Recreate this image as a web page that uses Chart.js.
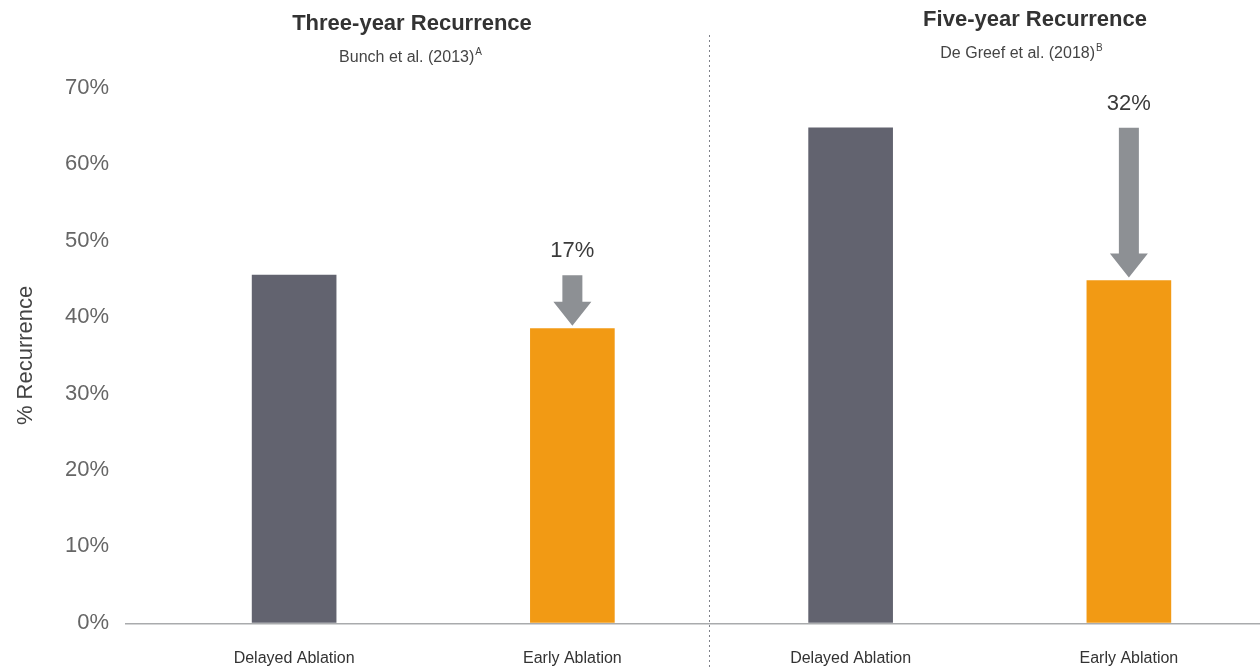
<!DOCTYPE html>
<html>
<head>
<meta charset="utf-8">
<script src="https://cdn.jsdelivr.net/npm/chart.js@4/dist/chart.umd.min.js"></script>
<style>
  html, body { margin: 0; padding: 0; background: #fff; overflow: hidden; }
  #wrap { width: 1260px; height: 667px; overflow: hidden; }
  canvas { display: block; }
</style>
</head>
<body>
<div id="wrap"><canvas id="recurrenceChart" width="1268" height="674"></canvas></div>
<script>
// data
const categories = ['Delayed Ablation', 'Early Ablation', 'Delayed Ablation', 'Early Ablation'];
const recurrence = [45.5, 38.5, 64.8, 44.8];
const barColors = ['#62636f', '#f29a14', '#62636f', '#f29a14'];
const yTicks = [0, 10, 20, 30, 40, 50, 60, 70];

const panelTitles = ['Three-year Recurrence', 'Five-year Recurrence'];
const panelSources = [['Bunch et al. (2013)', 'A'], ['De Greef et al. (2018)', 'B']];
// reductions: [from index, to index, label]
const reductions = [[0, 1, '17%'], [2, 3, '32%']];

const FONT = '"Liberation Sans", Arial, sans-serif';

// titles, divider, baseline and arrows
const decorPlugin = {
  id: 'decor',
  afterDatasetsDraw(chart) {
    const { ctx, scales } = chart;
    const x = scales.x, y = scales.y;
    ctx.save();

    // baseline
    ctx.strokeStyle = '#a9abad';
    ctx.lineWidth = 1.5;
    ctx.beginPath();
    ctx.moveTo(125, y.getPixelForValue(0) + 1);
    ctx.lineTo(chart.width, y.getPixelForValue(0) + 1);
    ctx.stroke();

    // dotted divider between the two studies
    const divX = (x.getPixelForValue(1) + x.getPixelForValue(2)) / 2 - 2;
    ctx.strokeStyle = '#7d8088';
    ctx.lineWidth = 1;
    ctx.setLineDash([2, 3]);
    ctx.beginPath();
    ctx.moveTo(divX, 35);
    ctx.lineTo(divX, chart.height);
    ctx.stroke();
    ctx.setLineDash([]);

    // panel titles
    const titleX = [412, 1035];
    const titleY = [24, 20];
    const srcX = [410, 1021];
    const srcY = [58, 54];
    ctx.textBaseline = 'middle';
    panelTitles.forEach((t, i) => {
      ctx.textAlign = 'center';
      ctx.fillStyle = '#333';
      ctx.font = 'bold 22px ' + FONT;
      ctx.fillText(t, titleX[i], titleY[i]);
      ctx.fillStyle = '#444';
      const [main, sup] = panelSources[i];
      ctx.font = '16px ' + FONT;
      const w = ctx.measureText(main).width;
      ctx.font = '10px ' + FONT;
      const sw = ctx.measureText(sup).width;
      const left = srcX[i] - (w + sw) / 2;
      ctx.textAlign = 'left';
      ctx.font = '16px ' + FONT;
      ctx.fillText(main, left, srcY[i]);
      ctx.font = '10px ' + FONT;
      ctx.fillText(sup, left + w + 1, srcY[i] - 6);
    });

    // reduction arrows
    ctx.textAlign = 'center';
    reductions.forEach(([from, to, label]) => {
      const cx = x.getPixelForValue(to);
      const yTop = y.getPixelForValue(recurrence[from]);
      const yTip = y.getPixelForValue(recurrence[to]) - 3;
      const shaft = 10, head = 19, headH = 24;
      ctx.fillStyle = '#8d9094';
      ctx.beginPath();
      ctx.moveTo(cx - shaft, yTop);
      ctx.lineTo(cx + shaft, yTop);
      ctx.lineTo(cx + shaft, yTip - headH);
      ctx.lineTo(cx + head, yTip - headH);
      ctx.lineTo(cx, yTip);
      ctx.lineTo(cx - head, yTip - headH);
      ctx.lineTo(cx - shaft, yTip - headH);
      ctx.closePath();
      ctx.fill();
      ctx.fillStyle = '#3a3a3a';
      ctx.font = '22px ' + FONT;
      ctx.fillText(label, cx, yTop - 24);
    });

    ctx.restore();
  }
};

const ctx = document.getElementById('recurrenceChart').getContext('2d');
new Chart(ctx, {
  type: 'bar',
  data: {
    labels: categories,
    datasets: [{
      label: '% Recurrence',
      data: recurrence,
      backgroundColor: barColors,
      barThickness: 84
    }]
  },
  options: {
    responsive: false,
    animation: false,
    layout: { padding: { top: 88, right: 0, left: 0, bottom: -31 } },
    plugins: { legend: { display: false }, tooltip: { enabled: false }, title: { display: false } },
    scales: {
      x: {
        grid: { display: false },
        border: { display: false },
        ticks: { color: '#333', font: { family: FONT, size: 16 }, padding: 18, maxRotation: 0 }
      },
      y: {
        min: 0,
        max: 70,
        afterBuildTicks(scale) { scale.ticks = yTicks.map(v => ({ value: v })); },
        grid: { display: false },
        border: { display: false },
        ticks: {
          color: '#666',
          font: { family: FONT, size: 22 },
          padding: 38,
          callback: v => v + '%'
        },
        title: {
          display: true,
          text: '% Recurrence',
          color: '#444',
          font: { family: FONT, size: 22 },
          padding: { top: 13, bottom: 0 }
        },
        afterFit(scale) { scale.width = 155; }
      }
    }
  },
  plugins: [decorPlugin]
});
</script>
</body>
</html>
